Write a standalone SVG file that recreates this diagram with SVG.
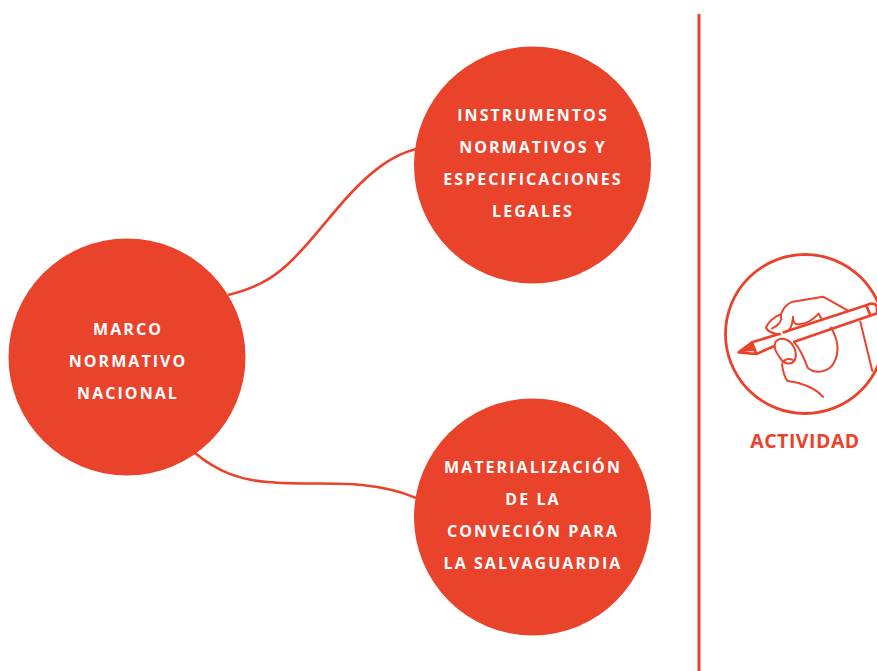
<svg xmlns="http://www.w3.org/2000/svg" width="877" height="671" viewBox="0 0 877 671">
<style>
.n{fill:#ea432c}
.t{font-family:"Open Sans","Noto Sans",sans-serif;font-weight:700;font-size:16px;letter-spacing:2.05px;fill:#fff;text-anchor:middle}
.c{fill:none;stroke:#ea432c;stroke-width:2.600}
.h{fill:none;stroke:#ea432c;stroke-width:6;stroke-linecap:round;stroke-linejoin:round}
</style>
<rect width="877" height="671" fill="#fff"/>
<g id="connectors">
<path class="c" d="M228 295C252 289 270 281 288 264C310 244 330 215 352 192C372 171 392 155 416 149"/>
<path class="c" d="M195 453C218 472 240 480 268 482C300 485 335 482 362 485C382 487 400 491 416 498"/>
</g>
<g id="node-marco">
<circle class="n" cx="127" cy="357" r="118.500"/>
<text class="t" x="128" y="335">MARCO</text>
<text class="t" x="128" y="367">NORMATIVO</text>
<text class="t" x="128" y="399">NACIONAL</text>
</g>
<g id="node-instrumentos">
<circle class="n" cx="532.500" cy="165" r="118.500"/>
<text class="t" x="533" y="121">INSTRUMENTOS</text>
<text class="t" x="533" y="153">NORMATIVOS Y</text>
<text class="t" x="533" y="185">ESPECIFICACIONES</text>
<text class="t" x="533" y="217">LEGALES</text>
</g>
<g id="node-materializacion">
<circle class="n" cx="532.500" cy="517" r="118.500"/>
<text class="t" x="533" y="473">MATERIALIZACIÓN</text>
<text class="t" x="533" y="505">DE LA</text>
<text class="t" x="533" y="537">CONVECIÓN PARA</text>
<text class="t" x="533" y="569">LA SALVAGUARDIA</text>
</g>
<g id="divider">
<path d="M699 14V671" fill="none" stroke="#ea432c" stroke-width="3"/>
</g>
<g id="node-actividad">
<circle cx="805" cy="334" r="79.500" fill="none" stroke="#ea432c" stroke-width="2.800"/>
<g transform="translate(717 245) scale(.3333)">
<path class="h" style="stroke-width:8" d="M170 304L118 327L65 322L105 292L186 267M200 262L450 180Q472 170 480 185L480 205L232 290M105 292L118 327M448 182L460 210"/>
<path d="M65 322L105 296L112 318Z" fill="#ea432c"/>
<path class="h" d="M190 268C170 268 150 258 147 248C152 232 172 214 192 208C198 190 210 176 228 170L318 155L392 196"/>
<path class="h" d="M192 210C196 224 188 240 165 250M228 215C228 228 230 234 237 237C262 240 285 228 305 206L314 222"/>
<path class="h" d="M205 262C222 258 226 240 228 218"/>
<path class="h" d="M175 292C185 278 205 278 220 292C238 310 240 335 232 348C222 360 200 358 190 340C180 325 168 310 175 292ZM197 352C205 340 220 340 228 345"/>
<path class="h" d="M232 292C248 310 262 340 272 368C295 388 335 382 350 355C370 320 362 280 342 248"/>
<path class="h" d="M195 358C198 380 205 400 212 408C250 412 295 428 318 456"/>
<path class="h" d="M430 230L466 378"/>
</g>
<text x="805" y="448" style="font-family:'Open Sans','Noto Sans',sans-serif;font-weight:700;font-size:19.500px;letter-spacing:.5px;fill:#ea432c;text-anchor:middle">ACTIVIDAD</text>
</g>
</svg>
